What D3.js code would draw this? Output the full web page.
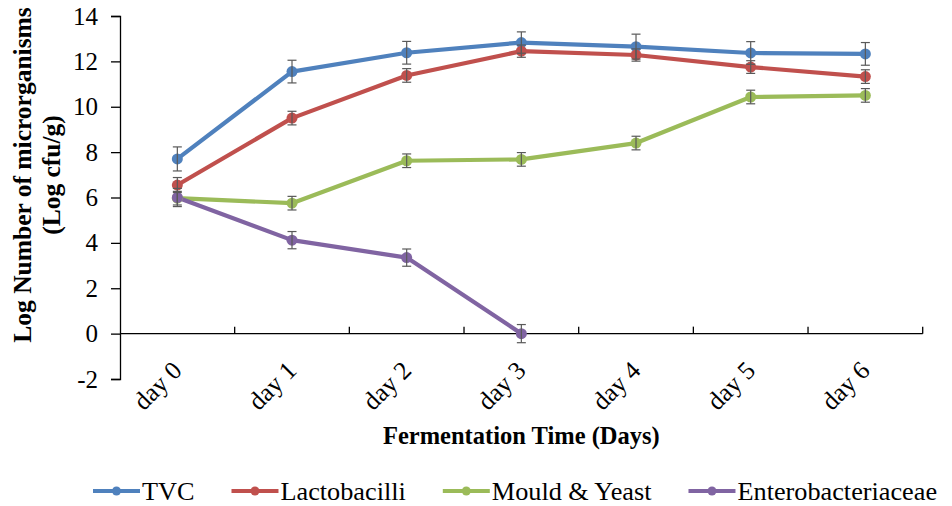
<!DOCTYPE html>
<html>
<head>
<meta charset="utf-8">
<script src="https://cdn.jsdelivr.net/npm/d3@7"></script>
<style>
  html, body { margin: 0; padding: 0; background: #fff; }
  svg { display: block; }
</style>
</head>
<body>
<svg id="chart" width="952" height="506" font-family="'Liberation Serif', 'DejaVu Serif', serif"></svg>
<script>
const days = ["day 0", "day 1", "day 2", "day 3", "day 4", "day 5", "day 6"];
const seriesNames = ["TVC", "Lactobacilli", "Mould & Yeast", "Enterobacteriaceae"];
const seriesColors = ["#4F81BD", "#C0504D", "#9BBB59", "#8064A2"];
const tvc = [7.70, 11.55, 12.38, 12.83, 12.65, 12.37, 12.33];
const tvcErr = [0.53, 0.50, 0.50, 0.47, 0.55, 0.50, 0.50];
const lacto = [6.55, 9.50, 11.38, 12.45, 12.28, 11.75, 11.33];
const lactoErr = [0.33, 0.30, 0.30, 0.27, 0.27, 0.28, 0.30];
const mould = [5.97, 5.75, 7.62, 7.68, 8.40, 10.43, 10.50];
const mouldErr = [0.30, 0.30, 0.30, 0.30, 0.30, 0.30, 0.30];
const entero = [6.00, 4.12, 3.35, 0.00];
const enteroErr = [0.40, 0.38, 0.38, 0.40];
const yTicks = [-2, 0, 2, 4, 6, 8, 10, 12, 14];
const xTitle = "Fermentation Time (Days)";
const yTitle = ["Log Number of microrganisms", "(Log cfu/g)"];

const values = [tvc, lacto, mould, entero];
const errors = [tvcErr, lactoErr, mouldErr, enteroErr];
const FONT = "Liberation Serif";

const svg = d3.select("#chart");
const mLeft = 120, mRight = 922.7, mTop = 16, mBottom = 379;

const x = d3.scaleBand().domain(days).range([mLeft, mRight]).padding(0);
const y = d3.scaleLinear().domain([-2, 14]).range([mBottom, mTop]);
const cx = d => x(d) + x.bandwidth() / 2;

// Y axis
const yAxis = svg.append("g").attr("transform", `translate(${mLeft},0)`)
  .call(d3.axisLeft(y).tickValues(yTicks).tickSize(9).tickPadding(13).tickFormat(d => String(d)));
yAxis.attr("font-family", FONT).attr("font-size", 25);
yAxis.select(".domain").attr("stroke", "#000").attr("stroke-width", 1.3);
yAxis.selectAll(".tick line").attr("stroke", "#000").attr("stroke-width", 1.3);
yAxis.selectAll(".tick text").attr("font-family", FONT).attr("font-size", 25).attr("fill", "#000");

// X axis line at y=0 with upward ticks at category boundaries
const xg = svg.append("g");
xg.append("line").attr("x1", mLeft).attr("x2", mRight).attr("y1", y(0)).attr("y2", y(0))
  .attr("stroke", "#000").attr("stroke-width", 1.3);
const boundaries = days.map(d => x(d)).concat([mRight]).slice(1);
xg.selectAll("line.tk").data(boundaries).enter().append("line").attr("class", "tk")
  .attr("x1", d => d).attr("x2", d => d).attr("y1", y(0)).attr("y2", y(0) - 7)
  .attr("stroke", "#000").attr("stroke-width", 1.3);

// X labels rotated
svg.append("g").selectAll("text").data(days).enter().append("text")
  .attr("transform", d => `translate(${cx(d) + 6},${mBottom - 7}) rotate(-45)`)
  .attr("text-anchor", "end").attr("font-family", FONT).attr("font-size", 25.5).text(d => d);

// Series lines
const line = d3.line().x((d, i) => cx(days[i])).y(d => y(d));
values.forEach((vals, s) => {
  svg.append("path").datum(vals).attr("d", line)
    .attr("fill", "none").attr("stroke", seriesColors[s]).attr("stroke-width", 4.2)
    .attr("stroke-linejoin", "round").attr("stroke-linecap", "round");
});
// markers
values.forEach((vals, s) => {
  svg.append("g").selectAll("circle").data(vals).enter().append("circle")
    .attr("cx", (d, i) => cx(days[i])).attr("cy", d => y(d)).attr("r", 5.5)
    .attr("fill", seriesColors[s]);
});
// error bars
values.forEach((vals, s) => {
  const g = svg.append("g").attr("stroke", "#595959").attr("stroke-width", 1.2);
  vals.forEach((v, i) => {
    const e = errors[s][i];
    const px = cx(days[i]);
    g.append("line").attr("x1", px).attr("x2", px).attr("y1", y(v - e)).attr("y2", y(v + e));
    g.append("line").attr("x1", px - 4.5).attr("x2", px + 4.5).attr("y1", y(v - e)).attr("y2", y(v - e));
    g.append("line").attr("x1", px - 4.5).attr("x2", px + 4.5).attr("y1", y(v + e)).attr("y2", y(v + e));
  });
});

// Axis titles
svg.append("text").attr("x", (mLeft + mRight) / 2).attr("y", 444).attr("text-anchor", "middle")
  .attr("font-family", FONT).attr("font-size", 24.5).attr("font-weight", "bold").text(xTitle);
const yt = svg.append("text").attr("transform", "translate(0,175) rotate(-90)")
  .attr("text-anchor", "middle").attr("font-family", FONT).attr("font-size", 25.5).attr("font-weight", "bold");
yt.append("tspan").attr("x", 0).attr("y", 31).text(yTitle[0]);
yt.append("tspan").attr("x", 0).attr("y", 60).text(yTitle[1]);

// Legend
const lg = svg.append("g");
let lx = 93;
const ly = 491;
const sx = 1.05;
seriesNames.forEach((name, s) => {
  const g = lg.append("g");
  g.append("line").attr("x1", lx).attr("x2", lx + 47).attr("y1", ly).attr("y2", ly)
    .attr("stroke", seriesColors[s]).attr("stroke-width", 4.2);
  g.append("circle").attr("cx", lx + 23.5).attr("cy", ly).attr("r", 4.5).attr("fill", seriesColors[s]);
  const t = g.append("text").attr("transform", `translate(${lx + 49},${ly + 8.5}) scale(${sx},1)`)
    .attr("font-family", FONT).attr("font-size", 25).text(name);
  lx += 49 + t.node().getComputedTextLength() * sx + 37;
});
</script>
</body>
</html>
